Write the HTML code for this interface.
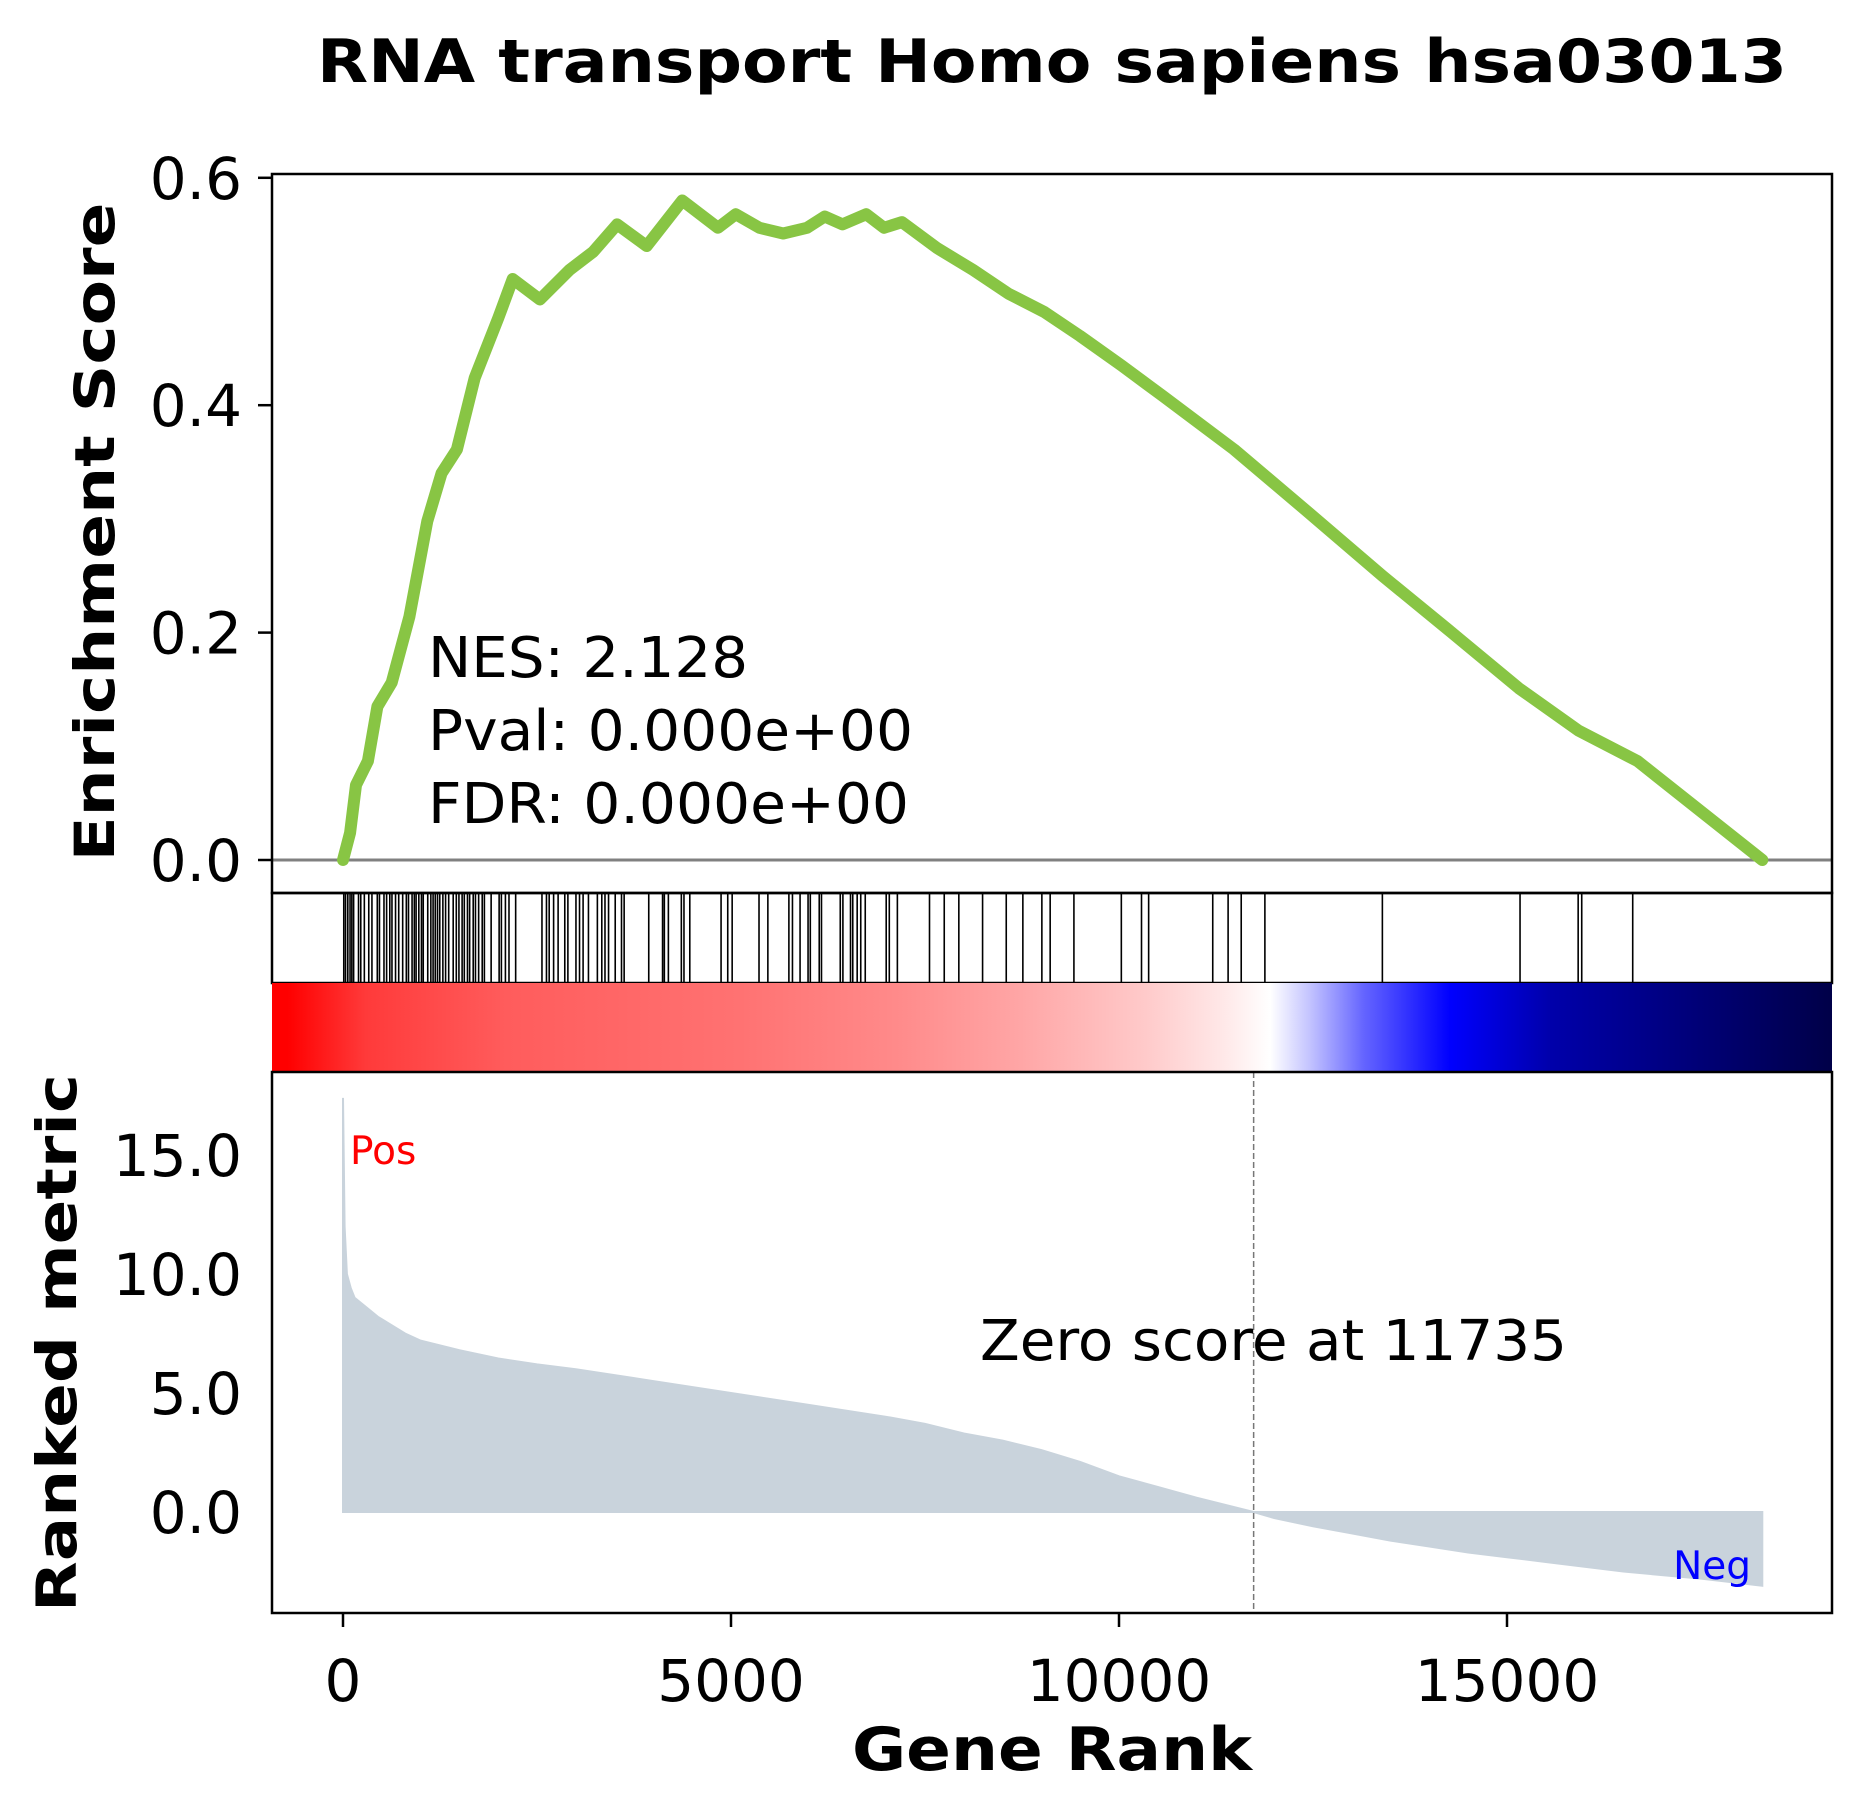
<!DOCTYPE html>
<html><head><meta charset="utf-8"><style>
html,body{margin:0;padding:0;background:#fff;}
svg{display:block;font-family:"DejaVu Sans","Liberation Sans",sans-serif;}
</style></head><body>
<svg id="chart" width="1861" height="1812" viewBox="0 0 1861 1812" xmlns="http://www.w3.org/2000/svg">
<defs>
<linearGradient id="cbar" x1="0" x2="1" y1="0" y2="0">
<stop offset="0" stop-color="#ff0000"/><stop offset="0.01" stop-color="#ff0000"/>
<stop offset="0.06" stop-color="#ff3a3a"/><stop offset="0.15" stop-color="#ff5c5c"/>
<stop offset="0.30" stop-color="#ff7272"/><stop offset="0.40" stop-color="#ff8a8a"/>
<stop offset="0.48" stop-color="#ffa6a6"/><stop offset="0.56" stop-color="#ffcaca"/>
<stop offset="0.61" stop-color="#ffe8e8"/><stop offset="0.64" stop-color="#ffffff"/>
<stop offset="0.665" stop-color="#c4c4ff"/><stop offset="0.70" stop-color="#6464ff"/>
<stop offset="0.755" stop-color="#0000ff"/><stop offset="0.82" stop-color="#0000aa"/>
<stop offset="1" stop-color="#000048"/>
</linearGradient>
</defs>
<text x="1052" y="82" font-size="60" font-weight="bold" text-anchor="middle" textLength="1470" lengthAdjust="spacingAndGlyphs">RNA transport Homo sapiens hsa03013</text>
<g id="es-panel"></g>
<g id="hit-panel"></g>
<rect x="272" y="983" width="1560" height="89" fill="url(#cbar)"/>
<g id="rank-panel"></g>
</svg>
<script>
// ---- data ----
const esRanks = [0,92,168,321,443,627,856,1086,1269,1468,1697,2003,2187,2538,2920,3226,3532,3914,4373,4832,5061,5367,5673,5979,6208,6437,6743,6972,7202,7660,8119,8578,9037,9495,10031,10566,11483,12401,13394,14235,15153,15917,16682,18290];
const esValues = [0,0.024,0.066,0.087,0.135,0.156,0.214,0.298,0.34,0.361,0.424,0.477,0.511,0.493,0.519,0.535,0.559,0.54,0.58,0.556,0.568,0.556,0.551,0.556,0.566,0.559,0.568,0.556,0.561,0.538,0.519,0.498,0.482,0.461,0.435,0.408,0.361,0.308,0.25,0.203,0.151,0.114,0.087,0];
const hitRanks = [10,33,62,91,114,137,200,229,275,332,373,442,470,528,562,603,631,677,718,769,816,844,890,919,942,977,1011,1034,1092,1132,1161,1189,1218,1247,1287,1322,1362,1420,1460,1494,1535,1563,1604,1632,1678,1707,1748,1794,1822,1909,2012,2041,2093,2139,2225,2564,2622,2657,2714,2772,2858,2898,3002,3048,3094,3163,3278,3335,3376,3422,3508,3589,3623,3940,4118,4141,4193,4360,4394,4469,4872,4958,5015,5361,5475,5746,5792,5890,5993,6022,6137,6166,6408,6442,6540,6569,6626,6672,6730,7000,7040,7144,7558,7748,7936,8242,8547,8761,9006,9113,9419,10030,10290,10382,11208,11406,11575,11880,13394,15168,15917,15963,16620];
const metricRanks = [0,20,50,100,150,300,450,600,800,1000,1500,2000,2500,3000,4000,5000,6000,7000,7500,8000,8500,9000,9500,10000,10500,11000,11735,12000,12500,13000,13500,14000,14500,15000,15500,16000,16500,17000,17500,18290];
const metricValues = [17.4,12,10,9.4,9.0,8.6,8.2,7.9,7.5,7.2,6.8,6.45,6.2,6.0,5.5,5.0,4.5,4.0,3.7,3.3,3.0,2.6,2.1,1.5,1.05,0.6,0,-0.25,-0.6,-0.9,-1.2,-1.45,-1.7,-1.9,-2.1,-2.3,-2.5,-2.65,-2.8,-3.1];
const zeroScoreRank = 11735;
const xTickValues = [0,5000,10000,15000];
const xTickLabels = ["0","5000","10000","15000"];
const esTickValues = [0,0.2,0.4,0.6];
const esTickLabels = ["0.0","0.2","0.4","0.6"];
const metricTickValues = [0,5,10,15];
const metricTickLabels = ["0.0","5.0","10.0","15.0"];
// ---- scales ----
const X0=272, X1=1832;
const xs = r => 343 + r*(388/5000);
const yEs = v => 860 - v*1137;
const yM = v => 1512 - v*23.8;
const NS="http://www.w3.org/2000/svg";
function mk(parent, tag, attrs, txt){const e=document.createElementNS(NS,tag);for(const k in attrs)e.setAttribute(k,attrs[k]);if(txt!==undefined)e.textContent=txt;parent.appendChild(e);return e;}
const es=document.getElementById('es-panel'), hp=document.getElementById('hit-panel'), rp=document.getElementById('rank-panel');
// ES panel
let zl=mk(es,'line',{x1:X0,x2:X1,y1:yEs(0),y2:yEs(0),stroke:'#808080','stroke-width':3});


let d=esRanks.map((r,i)=>(i?'L':'M')+xs(r).toFixed(1)+' '+yEs(esValues[i]).toFixed(1)).join(' ');
let esl=mk(es,'path',{d:d,fill:'none',stroke:'#88c544','stroke-width':12,'stroke-linejoin':'round','stroke-linecap':'round'});


let esf=mk(es,'rect',{x:X0,y:174,width:X1-X0,height:893-174,fill:'none',stroke:'#000','stroke-width':2.5});


esTickValues.forEach((v,i)=>{
  let t=mk(es,'line',{x1:258,x2:X0,y1:yEs(v),y2:yEs(v),stroke:'#000','stroke-width':2.5});
  
  
  let l=mk(es,'text',{x:242,y:yEs(v)+21,'font-size':58,'text-anchor':'end'},esTickLabels[i]);
  
  
});
let yl=mk(es,'text',{x:0,y:0,'font-size':55,'font-weight':'bold','text-anchor':'middle',transform:'translate(114,532) rotate(-90)',textLength:659,lengthAdjust:'spacingAndGlyphs'},'Enrichment Score');


[['NES: 2.128',320],['Pval: 0.000e+00',485],['FDR: 0.000e+00',481]].forEach((s,i)=>{
  let t=mk(es,'text',{x:428,y:677+i*73,'font-size':56,textLength:s[1],lengthAdjust:'spacingAndGlyphs'},s[0]);
  
  
});
// Hit panel
hitRanks.forEach(r=>{
  let h=mk(hp,'line',{x1:xs(r),x2:xs(r),y1:893,y2:983,stroke:'#000','stroke-width':1.6});
  
  
});
let hf=mk(hp,'rect',{x:X0,y:893,width:X1-X0,height:90,fill:'none',stroke:'#000','stroke-width':2.5});


// Ranked metric panel
let md='M'+xs(metricRanks[0])+' '+yM(0)+' '+metricRanks.map((r,i)=>'L'+xs(r).toFixed(1)+' '+yM(metricValues[i]).toFixed(1)).join(' ')+' L'+xs(metricRanks[metricRanks.length-1])+' '+yM(0)+' Z';
let ma=mk(rp,'path',{d:md,fill:'#c9d3dc',stroke:'#c9d3dc','stroke-width':2});


let dl=mk(rp,'line',{x1:xs(zeroScoreRank),x2:xs(zeroScoreRank),y1:1072,y2:1613,stroke:'#777','stroke-width':1.5,'stroke-dasharray':'6,3'});


let rf=mk(rp,'rect',{x:X0,y:1072,width:X1-X0,height:1613-1072,fill:'none',stroke:'#000','stroke-width':2.5});


metricTickValues.forEach((v,i)=>{
  let l=mk(rp,'text',{x:242,y:yM(v)+21,'font-size':58,'text-anchor':'end'},metricTickLabels[i]);
  
  
});
xTickValues.forEach((v,i)=>{
  let t=mk(rp,'line',{x1:xs(v),x2:xs(v),y1:1613,y2:1627,stroke:'#000','stroke-width':2.5});
  
  
  let l=mk(rp,'text',{x:xs(v),y:1701,'font-size':58,'text-anchor':'middle'},xTickLabels[i]);
  
  
});
let xl=mk(rp,'text',{x:1052,y:1770,'font-size':60,'font-weight':'bold','text-anchor':'middle',textLength:400,lengthAdjust:'spacingAndGlyphs'},'Gene Rank');


let ryl=mk(rp,'text',{x:0,y:0,'font-size':55,'font-weight':'bold','text-anchor':'middle',transform:'translate(76,1343) rotate(-90)',textLength:538,lengthAdjust:'spacingAndGlyphs'},'Ranked metric');


let zt=mk(rp,'text',{x:980,y:1360,'font-size':56,textLength:587,lengthAdjust:'spacingAndGlyphs'},'Zero score at 11735');


let pt=mk(rp,'text',{x:350,y:1164,'font-size':39,fill:'#ff0000'},'Pos');


let nt=mk(rp,'text',{x:1751,y:1579,'font-size':39,fill:'#0000ff','text-anchor':'end'},'Neg');


</script>
</body></html>
